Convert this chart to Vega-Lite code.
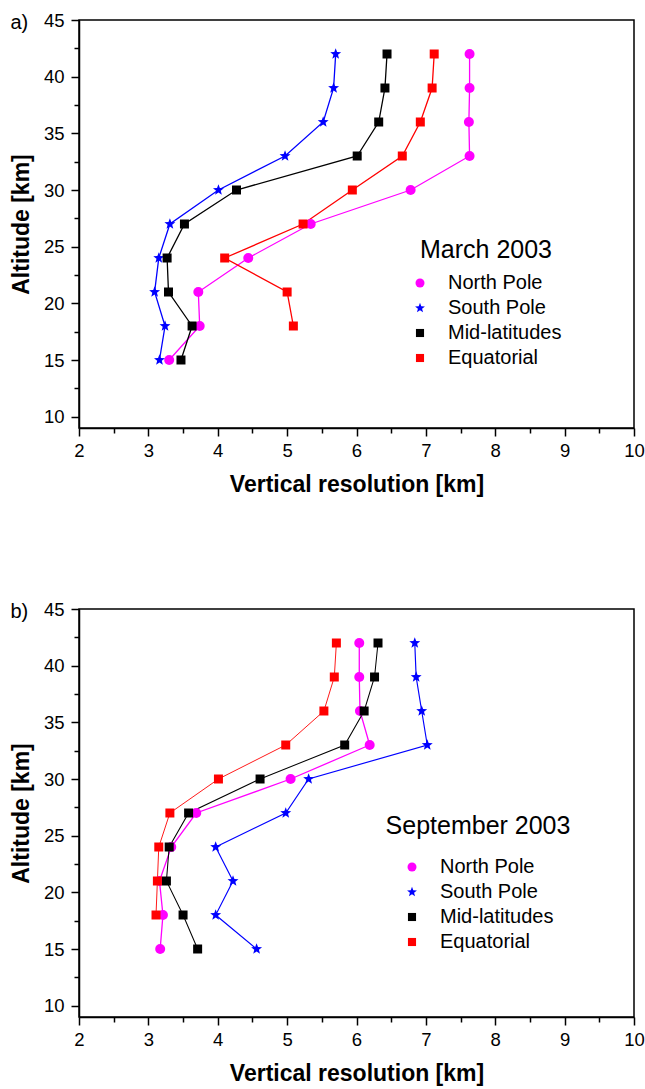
{
  "$schema": "https://vega.github.io/schema/vega-lite/v6.json",
  "background": "white",
  "padding": {"left": 9, "top": 10, "right": 0, "bottom": 0},
  "spacing": 101,
  "resolve": {
    "scale": {"color": "independent", "shape": "independent", "stroke": "independent", "strokeWidth": "independent", "x": "independent", "y": "independent"},
    "legend": {"color": "independent", "shape": "independent"}
  },
  "config": {
    "font": "Liberation Sans",
    "view": {"stroke": "black", "strokeWidth": 1.5},
    "axis": {
      "domainColor": "black", "domainWidth": 1.5, "tickColor": "black", "tickWidth": 1.5,
      "labelColor": "black", "labelFontSize": 18.5, "labelFont": "Liberation Sans",
      "titleFont": "Liberation Sans", "titleFontSize": 23, "titleFontWeight": "bold", "titleColor": "black",
      "grid": false, "labelFlush": false, "labelOverlap": false, "labelBound": false
    },
    "title": {"anchor": "start", "frame": "bounds", "fontSize": 20, "fontWeight": "normal", "color": "black", "font": "Liberation Sans", "offset": 0, "dy": 26},
    "legend": {
      "titleFontSize": 25, "titleFontWeight": "normal", "titleColor": "black", "titleFont": "Liberation Sans",
      "titleAnchor": "middle", "titleLimit": 400,
      "labelFontSize": 20, "labelColor": "black", "labelFont": "Liberation Sans", "labelLimit": 300,
      "padding": 0
    }
  },
  "data": {"values": [
    {"month": "March 2003", "region": "North Pole", "alt": 15, "res": 3.30},
    {"month": "March 2003", "region": "North Pole", "alt": 18, "res": 3.74},
    {"month": "March 2003", "region": "North Pole", "alt": 21, "res": 3.72},
    {"month": "March 2003", "region": "North Pole", "alt": 24, "res": 4.44},
    {"month": "March 2003", "region": "North Pole", "alt": 27, "res": 5.34},
    {"month": "March 2003", "region": "North Pole", "alt": 30, "res": 6.78},
    {"month": "March 2003", "region": "North Pole", "alt": 33, "res": 7.63},
    {"month": "March 2003", "region": "North Pole", "alt": 36, "res": 7.62},
    {"month": "March 2003", "region": "North Pole", "alt": 39, "res": 7.63},
    {"month": "March 2003", "region": "North Pole", "alt": 42, "res": 7.63},
    {"month": "March 2003", "region": "South Pole", "alt": 15, "res": 3.16},
    {"month": "March 2003", "region": "South Pole", "alt": 18, "res": 3.24},
    {"month": "March 2003", "region": "South Pole", "alt": 21, "res": 3.09},
    {"month": "March 2003", "region": "South Pole", "alt": 24, "res": 3.15},
    {"month": "March 2003", "region": "South Pole", "alt": 27, "res": 3.31},
    {"month": "March 2003", "region": "South Pole", "alt": 30, "res": 4.01},
    {"month": "March 2003", "region": "South Pole", "alt": 33, "res": 4.97},
    {"month": "March 2003", "region": "South Pole", "alt": 36, "res": 5.52},
    {"month": "March 2003", "region": "South Pole", "alt": 39, "res": 5.67},
    {"month": "March 2003", "region": "South Pole", "alt": 42, "res": 5.70},
    {"month": "March 2003", "region": "Mid-latitudes", "alt": 15, "res": 3.47},
    {"month": "March 2003", "region": "Mid-latitudes", "alt": 18, "res": 3.63},
    {"month": "March 2003", "region": "Mid-latitudes", "alt": 21, "res": 3.29},
    {"month": "March 2003", "region": "Mid-latitudes", "alt": 24, "res": 3.27},
    {"month": "March 2003", "region": "Mid-latitudes", "alt": 27, "res": 3.52},
    {"month": "March 2003", "region": "Mid-latitudes", "alt": 30, "res": 4.27},
    {"month": "March 2003", "region": "Mid-latitudes", "alt": 33, "res": 6.01},
    {"month": "March 2003", "region": "Mid-latitudes", "alt": 36, "res": 6.32},
    {"month": "March 2003", "region": "Mid-latitudes", "alt": 39, "res": 6.41},
    {"month": "March 2003", "region": "Mid-latitudes", "alt": 42, "res": 6.44},
    {"month": "March 2003", "region": "Equatorial", "alt": 18, "res": 5.09},
    {"month": "March 2003", "region": "Equatorial", "alt": 21, "res": 5.00},
    {"month": "March 2003", "region": "Equatorial", "alt": 24, "res": 4.10},
    {"month": "March 2003", "region": "Equatorial", "alt": 27, "res": 5.23},
    {"month": "March 2003", "region": "Equatorial", "alt": 30, "res": 5.94},
    {"month": "March 2003", "region": "Equatorial", "alt": 33, "res": 6.66},
    {"month": "March 2003", "region": "Equatorial", "alt": 36, "res": 6.92},
    {"month": "March 2003", "region": "Equatorial", "alt": 39, "res": 7.09},
    {"month": "March 2003", "region": "Equatorial", "alt": 42, "res": 7.12},
    {"month": "September 2003", "region": "North Pole", "alt": 15, "res": 3.17},
    {"month": "September 2003", "region": "North Pole", "alt": 18, "res": 3.21},
    {"month": "September 2003", "region": "North Pole", "alt": 21, "res": 3.16},
    {"month": "September 2003", "region": "North Pole", "alt": 24, "res": 3.33},
    {"month": "September 2003", "region": "North Pole", "alt": 27, "res": 3.69},
    {"month": "September 2003", "region": "North Pole", "alt": 30, "res": 5.05},
    {"month": "September 2003", "region": "North Pole", "alt": 33, "res": 6.19},
    {"month": "September 2003", "region": "North Pole", "alt": 36, "res": 6.05},
    {"month": "September 2003", "region": "North Pole", "alt": 39, "res": 6.04},
    {"month": "September 2003", "region": "North Pole", "alt": 42, "res": 6.04},
    {"month": "September 2003", "region": "South Pole", "alt": 15, "res": 4.56},
    {"month": "September 2003", "region": "South Pole", "alt": 18, "res": 3.97},
    {"month": "September 2003", "region": "South Pole", "alt": 21, "res": 4.22},
    {"month": "September 2003", "region": "South Pole", "alt": 24, "res": 3.97},
    {"month": "September 2003", "region": "South Pole", "alt": 27, "res": 4.98},
    {"month": "September 2003", "region": "South Pole", "alt": 30, "res": 5.31},
    {"month": "September 2003", "region": "South Pole", "alt": 33, "res": 7.02},
    {"month": "September 2003", "region": "South Pole", "alt": 36, "res": 6.94},
    {"month": "September 2003", "region": "South Pole", "alt": 39, "res": 6.86},
    {"month": "September 2003", "region": "South Pole", "alt": 42, "res": 6.84},
    {"month": "September 2003", "region": "Mid-latitudes", "alt": 15, "res": 3.71},
    {"month": "September 2003", "region": "Mid-latitudes", "alt": 18, "res": 3.50},
    {"month": "September 2003", "region": "Mid-latitudes", "alt": 21, "res": 3.26},
    {"month": "September 2003", "region": "Mid-latitudes", "alt": 24, "res": 3.30},
    {"month": "September 2003", "region": "Mid-latitudes", "alt": 27, "res": 3.58},
    {"month": "September 2003", "region": "Mid-latitudes", "alt": 30, "res": 4.61},
    {"month": "September 2003", "region": "Mid-latitudes", "alt": 33, "res": 5.83},
    {"month": "September 2003", "region": "Mid-latitudes", "alt": 36, "res": 6.11},
    {"month": "September 2003", "region": "Mid-latitudes", "alt": 39, "res": 6.26},
    {"month": "September 2003", "region": "Mid-latitudes", "alt": 42, "res": 6.31},
    {"month": "September 2003", "region": "Equatorial", "alt": 18, "res": 3.11},
    {"month": "September 2003", "region": "Equatorial", "alt": 21, "res": 3.13},
    {"month": "September 2003", "region": "Equatorial", "alt": 24, "res": 3.15},
    {"month": "September 2003", "region": "Equatorial", "alt": 27, "res": 3.31},
    {"month": "September 2003", "region": "Equatorial", "alt": 30, "res": 4.01},
    {"month": "September 2003", "region": "Equatorial", "alt": 33, "res": 4.98},
    {"month": "September 2003", "region": "Equatorial", "alt": 36, "res": 5.53},
    {"month": "September 2003", "region": "Equatorial", "alt": 39, "res": 5.68},
    {"month": "September 2003", "region": "Equatorial", "alt": 42, "res": 5.71}
  ]},
  "vconcat": [
    {
      "width": 555, "height": 408,
      "title": {"text": "a)"},
      "transform": [{"filter": "datum.month === 'March 2003'"}],
      "encoding": {
        "x": {"field": "res", "type": "quantitative", "title": "Vertical resolution [km]",
          "scale": {"domain": [2, 10], "nice": false, "zero": false},
          "axis": {"values": [2, 2.5, 3, 3.5, 4, 4.5, 5, 5.5, 6, 6.5, 7, 7.5, 8, 8.5, 9, 9.5, 10],
            "labelExpr": "datum.value % 1 === 0 ? '' + datum.value : ''",
            "tickSize": {"condition": {"test": "datum.value % 1 !== 0", "value": 5}, "value": 8},
            "labelPadding": 5, "titlePadding": 14}},
        "y": {"field": "alt", "type": "quantitative", "title": "Altitude [km]",
          "scale": {"domain": [9, 45], "nice": false, "zero": false},
          "axis": {"values": [10, 12.5, 15, 17.5, 20, 22.5, 25, 27.5, 30, 32.5, 35, 37.5, 40, 42.5, 45],
            "labelExpr": "datum.value % 5 === 0 ? '' + datum.value : ''",
            "tickSize": {"condition": {"test": "datum.value % 5 !== 0", "value": 5}, "value": 8},
            "labelPadding": 7, "titlePadding": 10}}
      },
      "layer": [
        {"mark": {"type": "line", "strokeWidth": 1.3},
         "encoding": {
           "order": {"field": "alt", "type": "quantitative"},
           "stroke": {"field": "region", "type": "nominal", "legend": null,
             "scale": {"domain": ["Equatorial", "Mid-latitudes", "South Pole", "North Pole"], "range": ["#ff0000", "#000000", "#0000ff", "#ff00ff"]}}
         }},
        {"mark": {"type": "point", "filled": true, "opacity": 1, "size": 100},
         "encoding": {
           "color": {"field": "region", "type": "nominal", "title": "March 2003",
             "scale": {"domain": ["North Pole", "South Pole", "Mid-latitudes", "Equatorial"], "range": ["#ff00ff", "#0000ff", "#000000", "#ff0000"]},
             "legend": {"orient": "none", "legendX": 331, "legendY": 218, "titlePadding": 10, "rowPadding": 5, "symbolSize": 81, "labelOffset": 18}},
           "shape": {"field": "region", "type": "nominal", "title": "March 2003",
             "scale": {"domain": ["North Pole", "South Pole", "Mid-latitudes", "Equatorial"], "range": ["circle", "M0,-1.15L0.284,-0.391L1.094,-0.355L0.46,0.15L0.676,0.93L0,0.483L-0.676,0.93L-0.46,0.15L-1.094,-0.355L-0.284,-0.391Z", "M-0.9,-0.9H0.9V0.9H-0.9Z", "M-0.9,-0.9H0.9V0.9H-0.9Z"]},
             "legend": {"orient": "none", "legendX": 331, "legendY": 218, "titlePadding": 10, "rowPadding": 5, "symbolSize": 81, "labelOffset": 18}}
         }}
      ]
    },
    {
      "width": 555, "height": 408,
      "title": {"text": "b)"},
      "transform": [{"filter": "datum.month === 'September 2003'"}],
      "encoding": {
        "x": {"field": "res", "type": "quantitative", "title": "Vertical resolution [km]",
          "scale": {"domain": [2, 10], "nice": false, "zero": false},
          "axis": {"values": [2, 2.5, 3, 3.5, 4, 4.5, 5, 5.5, 6, 6.5, 7, 7.5, 8, 8.5, 9, 9.5, 10],
            "labelExpr": "datum.value % 1 === 0 ? '' + datum.value : ''",
            "tickSize": {"condition": {"test": "datum.value % 1 !== 0", "value": 5}, "value": 8},
            "labelPadding": 5, "titlePadding": 14}},
        "y": {"field": "alt", "type": "quantitative", "title": "Altitude [km]",
          "scale": {"domain": [9, 45], "nice": false, "zero": false},
          "axis": {"values": [10, 12.5, 15, 17.5, 20, 22.5, 25, 27.5, 30, 32.5, 35, 37.5, 40, 42.5, 45],
            "labelExpr": "datum.value % 5 === 0 ? '' + datum.value : ''",
            "tickSize": {"condition": {"test": "datum.value % 5 !== 0", "value": 5}, "value": 8},
            "labelPadding": 7, "titlePadding": 10}}
      },
      "layer": [
        {"mark": {"type": "line"},
         "encoding": {
           "order": {"field": "alt", "type": "quantitative"},
           "strokeWidth": {"field": "region", "type": "nominal", "legend": null,
             "scale": {"domain": ["Equatorial", "Mid-latitudes", "South Pole", "North Pole"], "range": [0.9, 1.3, 1.3, 1.3]}},
           "stroke": {"field": "region", "type": "nominal", "legend": null,
             "scale": {"domain": ["Equatorial", "Mid-latitudes", "South Pole", "North Pole"], "range": ["#ff0000", "#000000", "#0000ff", "#ff00ff"]}}
         }},
        {"mark": {"type": "point", "filled": true, "opacity": 1, "size": 100},
         "encoding": {
           "color": {"field": "region", "type": "nominal", "title": "September 2003",
             "scale": {"domain": ["North Pole", "South Pole", "Mid-latitudes", "Equatorial"], "range": ["#ff00ff", "#0000ff", "#000000", "#ff0000"]},
             "legend": {"orient": "none", "legendX": 307, "legendY": 205, "titlePadding": 18, "rowPadding": 5, "symbolSize": 81, "labelOffset": 18}},
           "shape": {"field": "region", "type": "nominal", "title": "September 2003",
             "scale": {"domain": ["North Pole", "South Pole", "Mid-latitudes", "Equatorial"], "range": ["circle", "M0,-1.15L0.284,-0.391L1.094,-0.355L0.46,0.15L0.676,0.93L0,0.483L-0.676,0.93L-0.46,0.15L-1.094,-0.355L-0.284,-0.391Z", "M-0.9,-0.9H0.9V0.9H-0.9Z", "M-0.9,-0.9H0.9V0.9H-0.9Z"]},
             "legend": {"orient": "none", "legendX": 307, "legendY": 205, "titlePadding": 18, "rowPadding": 5, "symbolSize": 81, "labelOffset": 18}}
         }}
      ]
    }
  ]
}
